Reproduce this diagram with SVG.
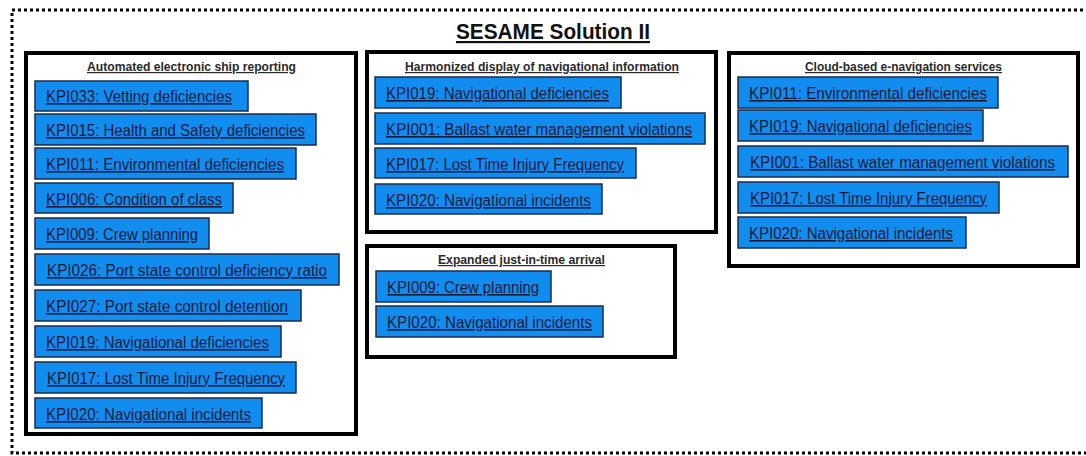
<svg xmlns="http://www.w3.org/2000/svg" width="1086" height="456" viewBox="0 0 1086 456">
<style>
.frame{fill:none;stroke:#000;stroke-width:3;stroke-dasharray:3 3}
.grp{fill:#fff;stroke:#000;stroke-width:4}
.kpi{fill:#118DF0;stroke:#1c2b4a;stroke-width:1.5}
.kt{font-family:"Liberation Sans",Arial,sans-serif;font-size:16px;fill:#141a3a;text-decoration:underline}
.ht{font-family:"Liberation Sans",Arial,sans-serif;font-size:12px;font-weight:bold;fill:#2a2a2a;text-decoration:underline}
.title{font-family:"Liberation Sans",Arial,sans-serif;font-size:22px;font-weight:bold;fill:#111;text-decoration:underline}
</style>
<rect width="1086" height="456" fill="#fff"/>
<rect class="frame" x="12" y="10" width="1090" height="443"/>
<text class="title" x="456" y="39" textLength="194" lengthAdjust="spacingAndGlyphs">SESAME Solution II</text>

<g id="automated">
<rect class="grp" x="26" y="53" width="330" height="381"/>
<text class="ht" x="87" y="71" textLength="209" lengthAdjust="spacingAndGlyphs">Automated electronic ship reporting</text>
<g id="a-kpi033"><rect class="kpi" x="35" y="81" width="213" height="30"/><text class="kt" x="46" y="102" textLength="186" lengthAdjust="spacingAndGlyphs">KPI033: Vetting deficiencies</text></g>
<g id="a-kpi015"><rect class="kpi" x="35" y="114" width="281" height="31"/><text class="kt" x="46" y="136" textLength="259" lengthAdjust="spacingAndGlyphs">KPI015: Health and Safety deficiencies</text></g>
<g id="a-kpi011"><rect class="kpi" x="35" y="148" width="261" height="31"/><text class="kt" x="46" y="170" textLength="238" lengthAdjust="spacingAndGlyphs">KPI011: Environmental deficiencies</text></g>
<g id="a-kpi006"><rect class="kpi" x="35" y="183" width="198" height="30"/><text class="kt" x="46" y="205" textLength="176" lengthAdjust="spacingAndGlyphs">KPI006: Condition of class</text></g>
<g id="a-kpi009"><rect class="kpi" x="35" y="218" width="174" height="31"/><text class="kt" x="46" y="240" textLength="152" lengthAdjust="spacingAndGlyphs">KPI009: Crew planning</text></g>
<g id="a-kpi026"><rect class="kpi" x="35" y="254" width="304" height="31"/><text class="kt" x="47" y="276" textLength="280" lengthAdjust="spacingAndGlyphs">KPI026: Port state control deficiency ratio</text></g>
<g id="a-kpi027"><rect class="kpi" x="35" y="290" width="266" height="31"/><text class="kt" x="46" y="312" textLength="242" lengthAdjust="spacingAndGlyphs">KPI027: Port state control detention</text></g>
<g id="a-kpi019"><rect class="kpi" x="35" y="326" width="246" height="31"/><text class="kt" x="46" y="348" textLength="223" lengthAdjust="spacingAndGlyphs">KPI019: Navigational deficiencies</text></g>
<g id="a-kpi017"><rect class="kpi" x="35" y="362" width="261" height="31"/><text class="kt" x="47" y="384" textLength="238" lengthAdjust="spacingAndGlyphs">KPI017: Lost Time Injury Frequency</text></g>
<g id="a-kpi020"><rect class="kpi" x="35" y="398" width="227" height="30"/><text class="kt" x="46" y="420" textLength="205" lengthAdjust="spacingAndGlyphs">KPI020: Navigational incidents</text></g>
</g>

<g id="harmonized">
<rect class="grp" x="367" y="52" width="349" height="180"/>
<text class="ht" x="405" y="71" textLength="274" lengthAdjust="spacingAndGlyphs">Harmonized display of navigational information</text>
<g id="h-kpi019"><rect class="kpi" x="375" y="77" width="246" height="31"/><text class="kt" x="386" y="99" textLength="223" lengthAdjust="spacingAndGlyphs">KPI019: Navigational deficiencies</text></g>
<g id="h-kpi001"><rect class="kpi" x="375" y="113" width="330" height="31"/><text class="kt" x="386" y="135" textLength="306" lengthAdjust="spacingAndGlyphs">KPI001: Ballast water management violations</text></g>
<g id="h-kpi017"><rect class="kpi" x="375" y="148" width="261" height="30"/><text class="kt" x="386" y="170" textLength="238" lengthAdjust="spacingAndGlyphs">KPI017: Lost Time Injury Frequency</text></g>
<g id="h-kpi020"><rect class="kpi" x="375" y="184" width="227" height="30"/><text class="kt" x="386" y="206" textLength="205" lengthAdjust="spacingAndGlyphs">KPI020: Navigational incidents</text></g>
</g>

<g id="jit">
<rect class="grp" x="367" y="246" width="308" height="111"/>
<text class="ht" x="438" y="264" textLength="167" lengthAdjust="spacingAndGlyphs">Expanded just-in-time arrival</text>
<g id="j-kpi009"><rect class="kpi" x="376" y="271" width="175" height="31"/><text class="kt" x="387" y="293" textLength="152" lengthAdjust="spacingAndGlyphs">KPI009: Crew planning</text></g>
<g id="j-kpi020"><rect class="kpi" x="376" y="306" width="227" height="31"/><text class="kt" x="387" y="328" textLength="205" lengthAdjust="spacingAndGlyphs">KPI020: Navigational incidents</text></g>
</g>

<g id="cloud">
<rect class="grp" x="729" y="53" width="349" height="213"/>
<text class="ht" x="805" y="71" textLength="197" lengthAdjust="spacingAndGlyphs">Cloud-based e-navigation services</text>
<g id="c-kpi011"><rect class="kpi" x="738" y="77" width="260" height="31"/><text class="kt" x="749" y="99" textLength="238" lengthAdjust="spacingAndGlyphs">KPI011: Environmental deficiencies</text></g>
<g id="c-kpi019"><rect class="kpi" x="738" y="110" width="245" height="31"/><text class="kt" x="749" y="132" textLength="223" lengthAdjust="spacingAndGlyphs">KPI019: Navigational deficiencies</text></g>
<g id="c-kpi001"><rect class="kpi" x="738" y="146" width="330" height="31"/><text class="kt" x="750" y="168" textLength="305" lengthAdjust="spacingAndGlyphs">KPI001: Ballast water management violations</text></g>
<g id="c-kpi017"><rect class="kpi" x="738" y="182" width="261" height="31"/><text class="kt" x="750" y="204" textLength="237" lengthAdjust="spacingAndGlyphs">KPI017: Lost Time Injury Frequency</text></g>
<g id="c-kpi020"><rect class="kpi" x="738" y="217" width="228" height="31"/><text class="kt" x="749" y="239" textLength="204" lengthAdjust="spacingAndGlyphs">KPI020: Navigational incidents</text></g>
</g>

<g id="connectors"/>
</svg>
